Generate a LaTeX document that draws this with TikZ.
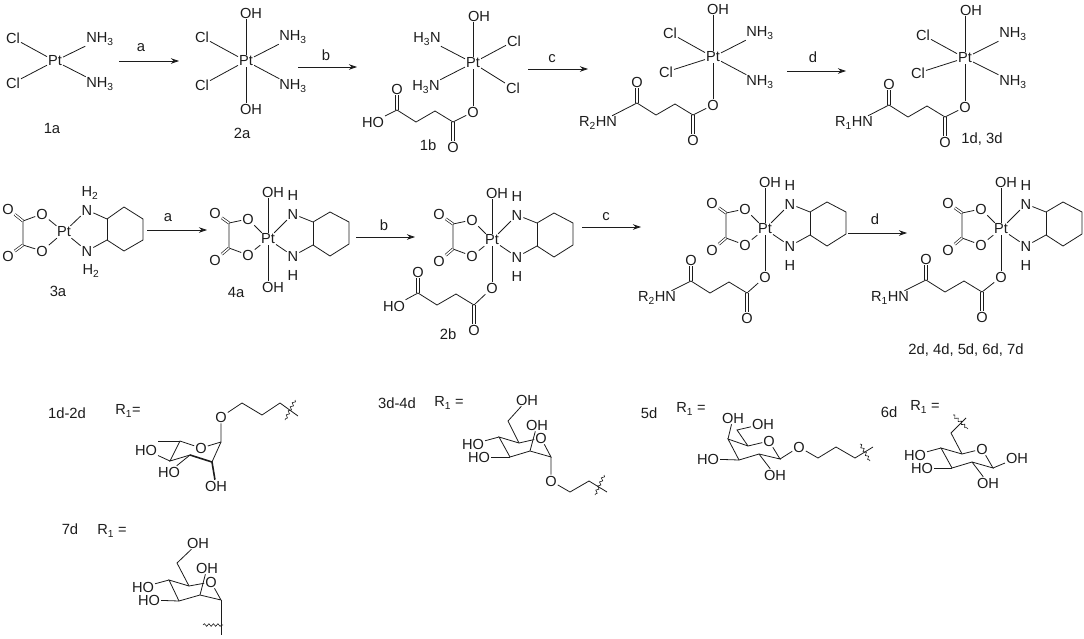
\documentclass[tikz,border=0pt]{standalone}
\usepackage{fontspec}
\setmainfont{Liberation Sans}
\usetikzlibrary{arrows.meta,decorations.pathmorphing}
\definecolor{ink}{HTML}{1C1C1C}
\tikzset{
	atom/.style = {inner sep=.9pt, text=ink, font=\fontsize{14.6}{15}\selectfont},
	tag/.style = {inner sep=0pt, text=ink, font=\fontsize{14.8}{15}\selectfont},
	bond/.style = {draw=ink, line width=.8pt},
	boldbond/.style = {draw=ink, line width=1.6pt},
	dbl/.style = {draw=ink, line width=.65pt, double, double distance=1.5pt},
	rxn/.style = {draw=ink, line width=.8pt, -{Stealth[length=8pt,width=5.5pt]}},
	wavy/.style = {draw=ink, line width=.6pt, decorate, decoration={snake,amplitude=1.3pt,segment length=4.5pt}}
}
% succinyl linker: name, position of the ester carbon, end group, end of that group
\newcommand{\succinyl}[4]{
	\begin{scope}[shift={#2}, name prefix=#1-]
		\coordinate (ca) at (0,0);
		\coordinate (cb) at (-18,-11);
		\coordinate (cc) at (-37,0);
		\coordinate (cd) at (-56,-12);
		\node[atom] (o) at (-56,-33) {O};
		\node[atom] (os) at (0,25) {O};
		\node[atom, anchor=east] (end) at #4 {#3};
		\draw[bond] (ca) -- (cb) -- (cc) -- (cd) -- (end);
		% the C=O bonds are upright, two strokes each
		\draw[bond] ([xshift=-1.2pt]ca) -- ([xshift=-1.2pt]os.north);
		\draw[bond] ([xshift=1.2pt]ca) -- ([xshift=1.2pt]os.north);
		\draw[bond] ([xshift=-1.2pt]cd) -- ([xshift=-1.2pt]o.south);
		\draw[bond] ([xshift=1.2pt]cd) -- ([xshift=1.2pt]o.south);
	\end{scope}
}
% oxalato Pt with the cyclohexane diamine and the upper OH
\newcommand{\oxaplatin}[2]{
	\begin{scope}[shift={#2}, name prefix=#1-]
		\node[atom] (pt) at (0,0) {Pt};
		\node[atom] (oh) at (5,-47) {OH};
		\node[atom] (oa) at (-20,-20) {O};
		\node[atom] (ob) at (-20,16) {O};
		\node[atom] (oc) at (-53,-26) {O};
		\node[atom] (od) at (-53,21) {O};
		\node[atom] (na) at (25,-25) {N};
		\node[atom] (nb) at (25,17) {N};
		\node[atom] (ha) at (25,-44) {H};
		\node[atom] (hb) at (25,36) {H};
		\coordinate (ca) at (-39,-16);
		\coordinate (cb) at (-39,9);
		\coordinate (ra) at (45,-17);
		\coordinate (rb) at (62,-27);
		\coordinate (rc) at (81,-17);
		\coordinate (rd) at (81,5);
		\coordinate (re) at (62,17);
		\coordinate (rf) at (45,6);
		\draw[bond] (pt) -- (pt |- oh.south);
		\draw[bond] (pt) -- (oa) -- (ca) -- (cb) -- (ob) -- (pt);
		\draw[dbl] (ca) -- (oc);
		\draw[dbl] (cb) -- (od);
		\draw[bond] (pt) -- (na) -- (ra) -- (rb) -- (rc) -- (rd) -- (re) -- (rf) -- (nb) -- (pt);
		\draw[bond] (ra) -- (rf);
	\end{scope}
}
\begin{document}
\begin{tikzpicture}[x=1pt, y=-1pt]
	\useasboundingbox (0,0) rectangle (1084,638);

	% first row
	\node[atom] (pta) at (55,61) {Pt};
	\node[atom] (cla) at (13,38) {Cl};
	\node[atom] (clb) at (13,83) {Cl};
	\node[atom] (nha) at (100,39) {NH\textsubscript{3}};
	\node[atom] (nhb) at (100,84) {NH\textsubscript{3}};
	\foreach \lig in {cla,clb,nha,nhb} \draw[bond] (pta) -- (\lig);
	\node[tag] (t1a) at (52,128) {1a};

	\coordinate (a1s) at (119,61);
	\coordinate (a1e) at (179,61);
	\draw[rxn] (a1s) -- (a1e);
	\node[tag] (a1t) at (141,48) {a};

	\node[atom] (ptb) at (246,61) {Pt};
	\node[atom] (ohb) at (251,13) {OH};
	\node[atom] (ohc) at (251,109) {OH};
	\node[atom] (clc) at (202,37) {Cl};
	\node[atom] (cld) at (202,85) {Cl};
	\node[atom] (nhc) at (293,37) {NH\textsubscript{3}};
	\node[atom] (nhd) at (293,86) {NH\textsubscript{3}};
	\foreach \lig in {clc,cld,nhc,nhd} \draw[bond] (ptb) -- (\lig);
	\draw[bond] (ptb) -- (ptb |- ohb.south);
	\draw[bond] (ptb) -- (ptb |- ohc.north);
	\node[tag] (t2a) at (242,133) {2a};

	\coordinate (b1s) at (298,67);
	\coordinate (b1e) at (357,67);
	\draw[rxn] (b1s) -- (b1e);
	\node[tag] (b1t) at (326,55) {b};

	\node[atom] (ptc) at (473,63) {Pt};
	\node[atom] (ohd) at (479,16) {OH};
	\node[atom] (nhe) at (427,39) {H\textsubscript{3}N};
	\node[atom] (nhf) at (426,87) {H\textsubscript{3}N};
	\node[atom] (cle) at (514,41) {Cl};
	\node[atom] (clf) at (513,88) {Cl};
	\node[atom] (oe) at (473,112) {O};
	\foreach \lig in {nhe,nhf,cle,clf,oe} \draw[bond] (ptc) -- (\lig);
	\draw[bond] (ptc) -- (ptc |- ohd.south);
	\succinyl{sb}{(453,122)}{HO}{(-68,0)}
	\draw[bond] (oe) -- (sb-ca);
	\node[tag] (t1b) at (428,145) {1b};

	\coordinate (c1s) at (528,69);
	\coordinate (c1e) at (588,69);
	\draw[rxn] (c1s) -- (c1e);
	\node[tag] (c1t) at (552,59) {c};

	\node[atom] (ptd) at (713,57) {Pt};
	\node[atom] (ohe) at (718,9) {OH};
	\node[atom] (clg) at (670,33) {Cl};
	\node[atom] (clh) at (666,72) {Cl};
	\node[atom] (nhg) at (760,33) {NH\textsubscript{3}};
	\node[atom] (nhh) at (760,82) {NH\textsubscript{3}};
	\node[atom] (of) at (713,105) {O};
	\foreach \lig in {clg,clh,nhg,nhh,of} \draw[bond] (ptd) -- (\lig);
	\draw[bond] (ptd) -- (ptd |- ohe.south);
	\succinyl{sc}{(693,115)}{R\textsubscript{2}HN}{(-75,8)}
	\draw[bond] (of) -- (sc-ca);

	\coordinate (d1s) at (787,71);
	\coordinate (d1e) at (846,71);
	\draw[rxn] (d1s) -- (d1e);
	\node[tag] (d1t) at (813,57) {d};

	\node[atom] (pte) at (965,58) {Pt};
	\node[atom] (ohf) at (971,10) {OH};
	\node[atom] (cli) at (923,35) {Cl};
	\node[atom] (clj) at (918,73) {Cl};
	\node[atom] (nhi) at (1013,34) {NH\textsubscript{3}};
	\node[atom] (nhj) at (1013,82) {NH\textsubscript{3}};
	\node[atom] (og) at (965,107) {O};
	\foreach \lig in {cli,clj,nhi,nhj,og} \draw[bond] (pte) -- (\lig);
	\draw[bond] (pte) -- (pte |- ohf.south);
	\succinyl{sd}{(945,117)}{R\textsubscript{1}HN}{(-71,6)}
	\draw[bond] (og) -- (sd-ca);
	\node[tag] (t1d) at (982,139) {1d, 3d};

	% second row
	\node[atom] (ptf) at (64,232) {Pt};
	\node[atom] (ok) at (42,214) {O};
	\node[atom] (ol) at (42,251) {O};
	\node[atom] (om) at (8,209) {O};
	\node[atom] (on) at (8,256) {O};
	\node[atom] (nk) at (87,210) {N};
	\node[atom] (nl) at (87,251) {N};
	\node[atom] (hk) at (90,193) {H\textsubscript{2}};
	\node[atom] (hl) at (91,271) {H\textsubscript{2}};
	\coordinate (ck) at (23,221);
	\coordinate (cl) at (23,245);
	\coordinate (ra) at (107,219);
	\coordinate (rb) at (124,207);
	\coordinate (rc) at (143,219);
	\coordinate (rd) at (143,240);
	\coordinate (re) at (124,251);
	\coordinate (rf) at (107,240);
	\draw[bond] (ptf) -- (ok) -- (ck) -- (cl) -- (ol) -- (ptf);
	\draw[dbl] (ck) -- (om);
	\draw[dbl] (cl) -- (on);
	\draw[bond] (ptf) -- (nk) -- (ra) -- (rb) -- (rc) -- (rd) -- (re) -- (rf) -- (nl) -- (ptf);
	\draw[bond] (ra) -- (rf);
	\node[tag] (t3a) at (58,291) {3a};

	\coordinate (a2s) at (147,230);
	\coordinate (a2e) at (207,230);
	\draw[rxn] (a2s) -- (a2e);
	\node[tag] (a2t) at (168,218) {a};

	\oxaplatin{fa}{(268,239)}
	\node[atom] (fa-ohb) at (273,287) {OH};
	\draw[bond] (fa-pt) -- (fa-pt |- fa-ohb.north);
	\node[tag] (t4a) at (236,292) {4a};

	\coordinate (b2s) at (356,237);
	\coordinate (b2e) at (415,237);
	\draw[rxn] (b2s) -- (b2e);
	\node[tag] (b2t) at (384,225) {b};

	\oxaplatin{tb}{(492,240)}
	\node[atom] (tb-ob) at (492,288) {O};
	\draw[bond] (tb-pt) -- (tb-ob);
	\succinyl{se}{(474,305)}{HO}{(-68,1)}
	\draw[bond] (tb-ob) -- (se-ca);
	\node[tag] (t2b) at (448,334) {2b};

	\coordinate (c2s) at (582,227);
	\coordinate (c2e) at (641,227);
	\draw[rxn] (c2s) -- (c2e);
	\node[tag] (c2t) at (606,217) {c};

	\oxaplatin{gc}{(765,229)}
	\node[atom] (gc-ob) at (765,277) {O};
	\draw[bond] (gc-pt) -- (gc-ob);
	\succinyl{sf}{(747,293)}{R\textsubscript{2}HN}{(-70,5)}
	\draw[bond] (gc-ob) -- (sf-ca);

	\coordinate (d2s) at (848,233);
	\coordinate (d2e) at (907,233);
	\draw[rxn] (d2s) -- (d2e);
	\node[tag] (d2t) at (875,219) {d};

	\oxaplatin{hd}{(1001,229)}
	\node[atom] (hd-ob) at (1001,277) {O};
	\draw[bond] (hd-pt) -- (hd-ob);
	\succinyl{sg}{(982,292)}{R\textsubscript{1}HN}{(-72,6)}
	\draw[bond] (hd-ob) -- (sg-ca);
	\node[tag] (t2d) at (966,350) {2d, 4d, 5d, 6d, 7d};

	% first sugar
	\node[tag] (t1r) at (67,413) {1d-2d};
	\node[atom] (r1a) at (128,411) {R\textsubscript{1}=};
	\node[atom] (aoa) at (221,417) {O};
	\node[atom] (aob) at (201,448) {O};
	\node[atom] (aoc) at (216,486) {OH};
	\node[atom] (aod) at (146,450) {HO};
	\node[atom] (aoe) at (169,472) {HO};
	\coordinate (aa) at (221,442);
	\coordinate (ab) at (212,462);
	\coordinate (ac) at (190,455);
	\coordinate (ad) at (170,461);
	\coordinate (ae) at (180,441);
	\coordinate (af) at (158,441);
	\coordinate (ag) at (242,403);
	\coordinate (ah) at (262,415);
	\coordinate (ai) at (280,403);
	\coordinate (aj) at (298,416);
	\coordinate (ak) at (295,400);
	\coordinate (al) at (285,420);
	\draw[bond] (aoa) -- (aa) -- (aob) -- (ae) -- (ad) -- (ac);
	\draw[bond] (ae) -- (af);
	\draw[bond] (aa) -- (ab);
	\draw[boldbond] (ac) -- (ab) -- (aoc);
	\draw[bond] (ad) -- (aod);
	\draw[bond] (ac) -- (aoe);
	\draw[bond] (aoa) -- (ag) -- (ah) -- (ai) -- (aj);
	\draw[wavy] (ak) -- (al);

	% second sugar
	\node[tag] (t3r) at (397,403) {3d-4d};
	\node[atom] (r1b) at (449,403) {R\textsubscript{1} =};
	\node[atom] (boa) at (541,438) {O};
	\node[atom] (bob) at (527,400) {OH};
	\node[atom] (boc) at (537,425) {OH};
	\node[atom] (bod) at (473,444) {HO};
	\node[atom] (boe) at (479,457) {HO};
	\node[atom] (bof) at (551,481) {O};
	\coordinate (ba) at (551,457);
	\coordinate (bb) at (530,451);
	\coordinate (bc) at (510,457);
	\coordinate (bd) at (499,437);
	\coordinate (be) at (519,443);
	\coordinate (bf) at (508,421);
	\coordinate (bg) at (570,492);
	\coordinate (bh) at (589,481);
	\coordinate (bi) at (607,492);
	\coordinate (bj) at (604,475);
	\coordinate (bk) at (595,495);
	\draw[bond] (boa) -- (ba) -- (bb) -- (bc) -- (bd) -- (be) -- (boa);
	\draw[bond] (be) -- (bf) -- (bob);
	\draw[bond] (bb) -- (boc);
	\draw[bond] (bd) -- (bod);
	\draw[bond] (bc) -- (boe);
	\draw[bond] (ba) -- (bof) -- (bg) -- (bh) -- (bi);
	\draw[wavy] (bj) -- (bk);

	% third sugar
	\node[tag] (t5r) at (649,413) {5d};
	\node[atom] (r1c) at (691,409) {R\textsubscript{1} =};
	\node[atom] (coa) at (769,441) {O};
	\node[atom] (cob) at (733,418) {OH};
	\node[atom] (coc) at (763,424) {OH};
	\node[atom] (cod) at (708,459) {HO};
	\node[atom] (coe) at (775,475) {OH};
	\node[atom] (cof) at (799,447) {O};
	\coordinate (ca) at (780,459);
	\coordinate (cb) at (759,454);
	\coordinate (cc) at (739,460);
	\coordinate (cd) at (728,439);
	\coordinate (ce) at (748,446);
	\coordinate (cf) at (737,430);
	\coordinate (cg) at (818,458);
	\coordinate (ch) at (836,447);
	\coordinate (ci) at (855,458);
	\coordinate (cj) at (873,447);
	\coordinate (ck2) at (860,444);
	\coordinate (cl2) at (870,461);
	\draw[bond] (coa) -- (ca) -- (cb) -- (cc) -- (cd) -- (ce) -- (coa);
	\draw[bond] (ce) -- (cf) -- (coc);
	\draw[bond] (cd) -- (cob);
	\draw[bond] (cc) -- (cod);
	\draw[bond] (cb) -- (coe);
	\draw[bond] (ca) -- (cof) -- (cg) -- (ch) -- (ci) -- (cj);
	\draw[wavy] (ck2) -- (cl2);

	% fourth sugar
	\node[tag] (t6r) at (889,412) {6d};
	\node[atom] (r1d) at (925,407) {R\textsubscript{1} =};
	\node[atom] (doa) at (982,449) {O};
	\node[atom] (dob) at (1017,458) {OH};
	\node[atom] (doc) at (988,483) {OH};
	\node[atom] (dod) at (915,455) {HO};
	\node[atom] (doe) at (922,468) {HO};
	\coordinate (da) at (993,468);
	\coordinate (db) at (972,462);
	\coordinate (dc) at (952,468);
	\coordinate (dd) at (941,448);
	\coordinate (de) at (962,454);
	\coordinate (df) at (951,433);
	\coordinate (dg) at (966,418);
	\coordinate (dh) at (953,415);
	\coordinate (di) at (968,429);
	\draw[bond] (doa) -- (da) -- (db) -- (dc) -- (dd) -- (de) -- (doa);
	\draw[bond] (de) -- (df) -- (dg);
	\draw[bond] (da) -- (dob);
	\draw[bond] (db) -- (doc);
	\draw[bond] (dd) -- (dod);
	\draw[bond] (dc) -- (doe);
	\draw[wavy] (dh) -- (di);

	% fifth sugar
	\node[tag] (t7r) at (70,529) {7d};
	\node[atom] (r1e) at (112,531) {R\textsubscript{1} =};
	\node[atom] (eoa) at (211,582) {O};
	\node[atom] (eob) at (198,543) {OH};
	\node[atom] (eoc) at (207,568) {OH};
	\node[atom] (eod) at (143,587) {HO};
	\node[atom] (eoe) at (149,600) {HO};
	\coordinate (ea) at (221,600);
	\coordinate (eb) at (200,595);
	\coordinate (ec) at (179,601);
	\coordinate (ed) at (169,580);
	\coordinate (ee) at (189,586);
	\coordinate (ef) at (177,563);
	\coordinate (eg) at (221,635);
	\coordinate (eh) at (203,625);
	\coordinate (ei) at (223,625);
	\draw[bond] (eoa) -- (ea) -- (eb) -- (ec) -- (ed) -- (ee) -- (eoa);
	\draw[bond] (ee) -- (ef) -- (eob);
	\draw[bond] (eb) -- (eoc);
	\draw[bond] (ed) -- (eod);
	\draw[bond] (ec) -- (eoe);
	\draw[bond] (ea) -- (eg);
	\draw[wavy] (eh) -- (ei);
\end{tikzpicture}
\end{document}
